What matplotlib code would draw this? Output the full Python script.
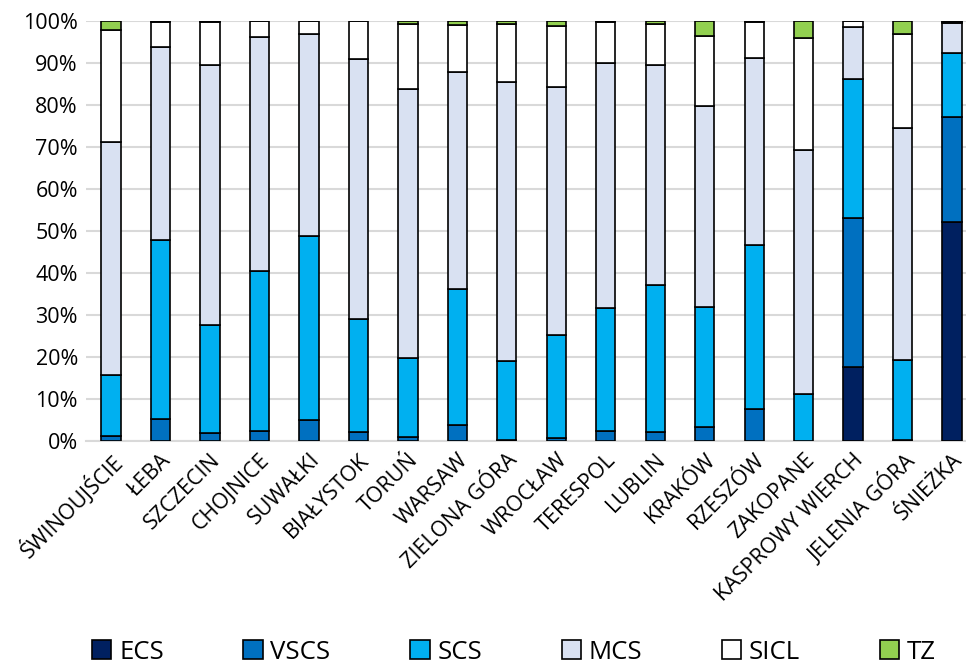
import matplotlib
matplotlib.use("Agg")
import matplotlib.pyplot as plt
import numpy as np

plt.rcParams['font.family'] = ['Open Sans', 'DejaVu Sans']

stations = ["ŚWINOUJŚCIE", "ŁEBA", "SZCZECIN", "CHOJNICE", "SUWAŁKI", "BIAŁYSTOK",
            "TORUŃ", "WARSAW", "ZIELONA GÓRA", "WROCŁAW", "TERESPOL", "LUBLIN",
            "KRAKÓW", "RZESZÓW", "ZAKOPANE", "KASPROWY WIERCH", "JELENIA GÓRA", "ŚNIEŻKA"]

# shares in % per station
ecs  = [0.0, 0.0, 0.0, 0.0, 0.0, 0.0, 0.0, 0.0, 0.0, 0.0, 0.0, 0.0, 0.0, 0.0, 0.0, 17.7, 0.0, 52.1]
vscs = [1.3, 5.3, 2.0, 2.4, 4.9, 2.1, 0.9, 3.8, 0.2, 0.6, 2.4, 2.1, 3.3, 7.7, 0.0, 35.5, 0.2, 25.0]
scs  = [14.3, 42.6, 25.6, 38.1, 43.8, 26.9, 18.8, 32.5, 18.9, 24.6, 29.3, 35.1, 28.7, 39.0, 11.1, 33.0, 19.0, 15.2]
mcs  = [55.7, 45.8, 61.9, 55.8, 48.3, 61.9, 64.1, 51.6, 66.3, 59.0, 58.4, 52.3, 47.8, 44.6, 58.1, 12.4, 55.3, 7.2]
sicl = [26.6, 6.1, 10.2, 3.7, 3.0, 9.1, 15.6, 11.1, 13.8, 14.7, 9.6, 9.9, 16.7, 8.4, 26.7, 1.4, 22.5, 0.3]
tz   = [2.1, 0.2, 0.3, 0.0, 0.0, 0.0, 0.6, 1.0, 0.8, 1.1, 0.3, 0.6, 3.5, 0.3, 4.1, 0.0, 3.0, 0.2]

series = [("ECS", ecs, "#002060"), ("VSCS", vscs, "#0070C0"), ("SCS", scs, "#00B0F0"),
          ("MCS", mcs, "#D9E1F2"), ("SICL", sicl, "#FFFFFF"), ("TZ", tz, "#92D050")]

fig = plt.figure(figsize=(9.66, 6.69), dpi=100)
ax = fig.add_axes([86.3 / 966, 228 / 669, 890.5 / 966, 420 / 669])

x = np.arange(len(stations))
bottom = np.zeros(len(stations))
for name, vals, col in series:
    vals = np.array(vals)
    ax.bar(x, vals, 0.39, bottom=bottom, color=col, edgecolor="black",
           linewidth=1.2, label=name, zorder=3)
    bottom += vals

ax.set_xlim(-0.5, 17.5)
ax.set_ylim(0, 100)
ax.set_yticks(np.arange(0, 101, 10))
ax.set_yticklabels([f"{v}%" for v in range(0, 101, 10)], fontsize=15.5)
ax.yaxis.grid(True, color="#D9D9D9", linewidth=1.5, zorder=0)
ax.set_axisbelow(True)
for s in ["top", "right", "left"]:
    ax.spines[s].set_visible(False)
ax.spines["bottom"].set_color("#D9D9D9")
ax.spines["bottom"].set_linewidth(1.5)
ax.tick_params(axis="both", length=0)
ax.tick_params(axis="y", pad=6)
ax.tick_params(axis="x", pad=6)
ax.set_xticks(x)
ax.set_xticklabels(stations, rotation=45, ha="right", rotation_mode="anchor", fontsize=15.5)

fig.legend(loc="lower center", bbox_to_anchor=(0.532, -0.028), ncol=6, frameon=False,
           fontsize=18.5, handlelength=0.75, handleheight=0.75, handletextpad=0.3,
           columnspacing=3.1)

fig.savefig("out.png", dpi=100)
